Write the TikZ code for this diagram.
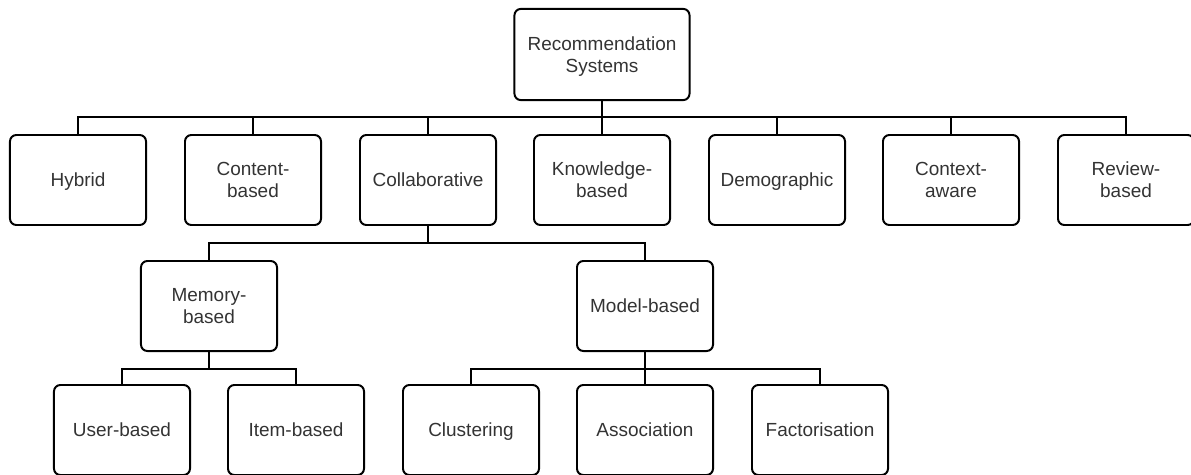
\documentclass[tikz,border=0pt]{standalone}
\usepackage{fontspec}
\setmainfont{Liberation Sans}
\usepackage{tikz}
\tikzstyle{box}=[draw,thick,line width=1.4pt,rounded corners=0.16cm,minimum width=3.4cm,minimum height=2.25cm,inner sep=0pt,align=center,text depth=0pt,text=black!80,font=\fontsize{13.5}{15.5}\selectfont]
\tikzstyle{rootbox}=[box,minimum width=4.375cm,minimum height=2.28cm]
\tikzstyle{link}=[draw,line width=1.4pt]

\begin{document}
\begin{tikzpicture}[x=0.025cm,y=-0.025cm]
  \useasboundingbox (0,0) rectangle (1191,474);
  \node[rootbox] (root) at (602,54.5) {Recommendation\\Systems};
  \node[box] (hyb) at (78,180) {Hybrid};
  \node[box] (con) at (253,180) {Content-\\based};
  \node[box] (col) at (428,180) {Collaborative};
  \node[box] (kno) at (602,180) {Knowledge-\\based};
  \node[box] (dem) at (777,180) {Demographic};
  \node[box] (ctx) at (951,180) {Context-\\aware};
  \node[box] (rev) at (1126,180) {Review-\\based};
  \node[box] (mem) at (209,306) {Memory-\\based};
  \node[box] (mod) at (645,306) {Model-based};
  \node[box] (usr) at (122,430) {User-based};
  \node[box] (itm) at (296,430) {Item-based};
  \node[box] (clu) at (471,430) {Clustering};
  \node[box] (ass) at (645,430) {Association};
  \node[box] (fac) at (820,430) {Factorisation};
  \coordinate (b1) at (602,117);
  \coordinate (b2) at (428,243);
  \coordinate (b3) at (209,369);
  \coordinate (b4) at (645,369);
  \draw[link] (root) -- (b1);
  \foreach \n in {hyb,con,col,kno,dem,ctx,rev}
    \draw[link] (b1) -| (\n.north);
  \draw[link] (col) -- (b2);
  \foreach \n in {mem,mod}
    \draw[link] (b2) -| (\n.north);
  \draw[link] (mem) -- (b3);
  \foreach \n in {usr,itm}
    \draw[link] (b3) -| (\n.north);
  \draw[link] (mod) -- (b4);
  \foreach \n in {clu,ass,fac}
    \draw[link] (b4) -| (\n.north);
\end{tikzpicture}
\end{document}
